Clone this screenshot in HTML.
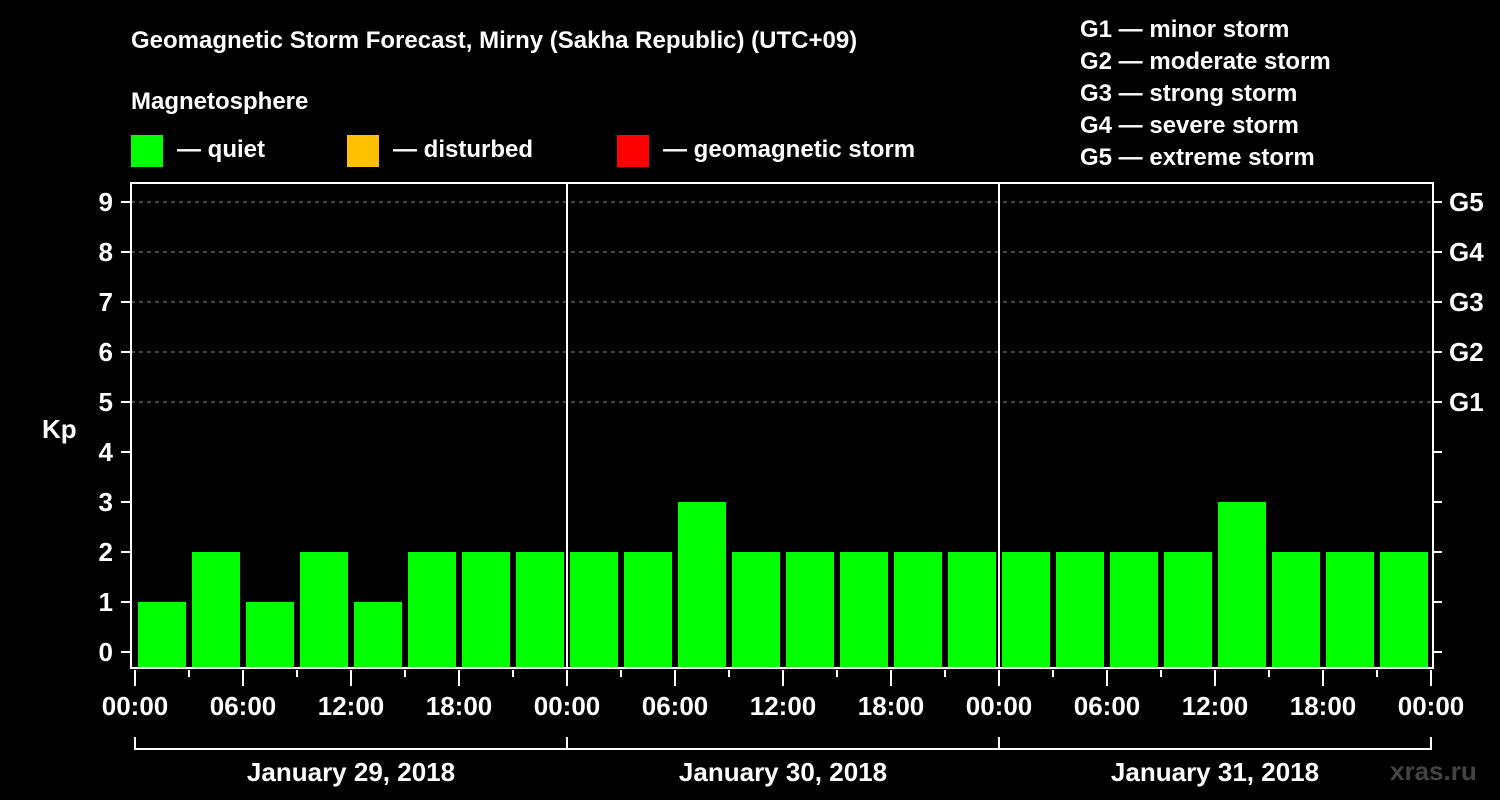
<!DOCTYPE html>
<html><head><meta charset="utf-8"><style>
body{margin:0;background:#000;}
svg{display:block;font-family:"Liberation Sans",Arial,sans-serif;font-weight:bold;}
</style></head><body>
<svg id="c" width="1500" height="800" viewBox="0 0 1500 800">
<rect width="1500" height="800" fill="#000"/>
<text x="131" y="48" fill="#fff" font-size="24">Geomagnetic Storm Forecast, Mirny (Sakha Republic) (UTC+09)</text>
<text x="131" y="109" fill="#fff" font-size="24">Magnetosphere</text>
<g><rect x="131" y="135" width="32" height="32" fill="#00ff00"/><text x="177" y="157" fill="#fff" font-size="24">— quiet</text></g>
<g><rect x="347" y="135" width="32" height="32" fill="#ffc000"/><text x="393" y="157" fill="#fff" font-size="24">— disturbed</text></g>
<g><rect x="617" y="135" width="32" height="32" fill="#ff0000"/><text x="663" y="157" fill="#fff" font-size="24">— geomagnetic storm</text></g>
<g fill="#fff" font-size="24">
<text x="1080" y="37">G1 — minor storm</text>
<text x="1080" y="69">G2 — moderate storm</text>
<text x="1080" y="101">G3 — strong storm</text>
<text x="1080" y="133">G4 — severe storm</text>
<text x="1080" y="165">G5 — extreme storm</text>
</g>
<g id="grid"></g>
<g id="bars"></g>
<g id="axes"></g>
<text x="42" y="438" fill="#fff" font-size="26">Kp</text>
<text x="1390" y="780" fill="#444" font-size="26">xras.ru</text>
</svg>
<script>
const kpValues = [1,2,1,2,1,2,2,2, 2,2,3,2,2,2,2,2, 2,2,2,2,3,2,2,2];
const yTicks = [0,1,2,3,4,5,6,7,8,9];
const gLabels = ["G1","G2","G3","G4","G5"];
const hourLabels = ["00:00","06:00","12:00","18:00"];
const dayLabels = ["January 29, 2018","January 30, 2018","January 31, 2018"];
const NS="http://www.w3.org/2000/svg";
const L=131,R=1433,T=183,B=668,X0=135,DAY=432;
const y=v=>652-v*50;
const x=i=>X0+i*DAY/8;
function mk(tag,attrs,parent,txt){const e=document.createElementNS(NS,tag);for(const k in attrs)e.setAttribute(k,attrs[k]);if(txt!==undefined)e.textContent=txt;parent.appendChild(e);return e;}
const grid=document.getElementById('grid'),bars=document.getElementById('bars'),axes=document.getElementById('axes');
for(let k=5;k<=9;k++){const l=mk('line',{x1:L,x2:R,y1:y(k),y2:y(k),stroke:'#888','stroke-dasharray':'4,4','stroke-width':1},grid);

}
kpValues.forEach((v,i)=>{const c=v>=5?'#ff0000':v>=4?'#ffc000':'#00ff00';
const r=mk('rect',{x:x(i)+3,y:y(v),width:DAY/8-6,height:B-y(v),fill:c},bars);

});
mk('rect',{x:L,y:T,width:R-L,height:B-T,fill:'none',stroke:'#fff','stroke-width':2},axes);
for(let d=1;d<3;d++)mk('line',{x1:X0+d*DAY,x2:X0+d*DAY,y1:T,y2:B,stroke:'#fff','stroke-width':2},axes);
yTicks.forEach(k=>{mk('line',{x1:121,x2:L,y1:y(k),y2:y(k),stroke:'#fff','stroke-width':2},axes);
mk('line',{x1:R,x2:1442,y1:y(k),y2:y(k),stroke:'#fff','stroke-width':2},axes);
const t=mk('text',{x:113,y:y(k)+9,fill:'#fff','font-size':26,'text-anchor':'end'},axes,k);

});
gLabels.forEach((g,i)=>{const t=mk('text',{x:1449,y:y(i+5)+9,fill:'#fff','font-size':26},axes,g);

});
for(let i=0;i<=24;i++){const major=i%2===0;mk('line',{x1:x(i),x2:x(i),y1:B+2,y2:major?B+18:B+9,stroke:'#fff','stroke-width':2},axes);
if(major){const t=mk('text',{x:x(i),y:715,fill:'#fff','font-size':26,'text-anchor':'middle'},axes,hourLabels[(i/2)%4]);

}}
mk('polyline',{points:`${X0},737 ${X0},749 ${X0+3*DAY},749 ${X0+3*DAY},737`,fill:'none',stroke:'#fff','stroke-width':2},axes);
for(let d=1;d<3;d++)mk('line',{x1:X0+d*DAY,x2:X0+d*DAY,y1:737,y2:749,stroke:'#fff','stroke-width':2},axes);
dayLabels.forEach((s,d)=>{const t=mk('text',{x:X0+d*DAY+DAY/2,y:781,fill:'#fff','font-size':26,'text-anchor':'middle'},axes,s);

});
</script>
</body></html>
